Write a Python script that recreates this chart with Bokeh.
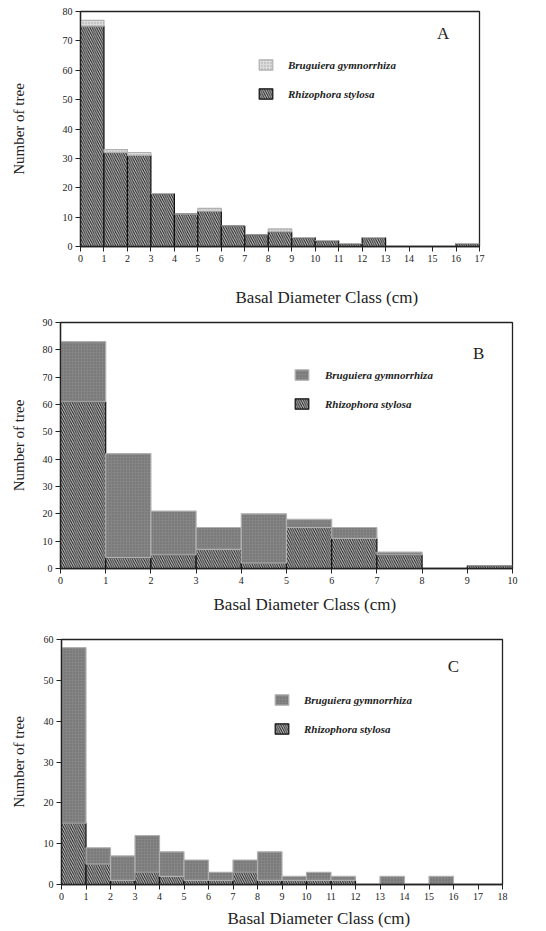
from bokeh.plotting import figure
from bokeh.models import (Range1d, Legend, LegendItem, Label, ColumnDataSource,
                          FixedTicker, Title, LinearAxis)
from bokeh.layouts import column, row
from bokeh.embed import file_html
from bokeh.resources import INLINE

# ---------------- data ----------------
species = ["Bruguiera gymnorrhiza", "Rhizophora stylosa"]

classes_a = list(range(17))   # class lower bound (cm)
rhizo_a = [75, 32, 31, 18, 11, 12, 7, 4, 5, 3, 2, 1, 3, 0, 0, 0, 1]
brug_a = [2, 1, 1, 0, 0, 1, 0, 0, 1, 0, 0, 0, 0, 0, 0, 0, 0]

classes_b = list(range(10))
rhizo_b = [61, 4, 5, 7, 2, 15, 11, 5, 0, 1]
brug_b = [22, 38, 16, 8, 18, 3, 4, 1, 0, 0]

classes_c = list(range(18))
rhizo_c = [15, 5, 1, 3, 2, 1, 1, 3, 1, 1, 1, 1, 0, 0, 0, 0, 0, 0]
brug_c = [43, 4, 6, 9, 6, 5, 2, 3, 7, 1, 2, 1, 0, 2, 0, 2, 0, 0]

panel_letters = ["A", "B", "C"]
y_max = [80, 90, 60]
x_max = [17, 10, 18]
x_title = "Basal Diameter Class (cm)"
y_title = "Number of tree"

SERIF = "Liberation Serif"


def panel(letter, classes, rhizo, brug, xmax, ymax, height, borders,
          ylab_standoff, xtitle_offset, gap, legend_loc, standoff, brug_fill, letter_pos):
    bl, bt, br, bb = borders
    p = figure(width=538, height=height, output_backend="svg", toolbar_location=None,
               x_range=Range1d(0, xmax), y_range=Range1d(0, ymax),
               min_border_left=bl, min_border_top=bt, min_border_right=br,
               min_border_bottom=bb, background_fill_color="white",
               border_fill_color="white")
    p.grid.visible = False
    p.outline_line_color = "#222222"
    p.outline_line_width = 1.3

    src = ColumnDataSource(dict(x=[c + 0.5 for c in classes], R=rhizo, B=brug))
    rends = p.vbar_stack(["R", "B"], x="x", width=1.0, source=src,
                         fill_color=["#c8c8c8", brug_fill],
                         line_color=["#111111", "#b0b0b0"],
                         line_width=[1.2, 1.2],
                         hatch_pattern=["\\", "."],
                         hatch_color=["#1a1a1a", "#333333"],
                         hatch_alpha=[1.0, 0.35],
                         hatch_scale=[4.5, 3],
                         hatch_weight=[1.0, 1.0])
    rR, rB = rends

    # axes
    p.xaxis.ticker = FixedTicker(ticks=list(range(0, xmax + 1)))
    p.yaxis.ticker = FixedTicker(ticks=list(range(0, ymax + 1, 10)))
    for ax in (p.xaxis[0], p.yaxis[0]):
        ax.axis_line_color = "#222222"
        ax.axis_line_width = 1.3
        ax.major_tick_line_color = "#222222"
        ax.major_tick_out = 5
        ax.major_tick_in = 0
        ax.minor_tick_line_color = None
        ax.major_label_text_font = SERIF
        ax.major_label_text_font_size = "10px"
        ax.major_label_text_color = "#222222"
        ax.major_label_standoff = 3
        ax.axis_label_text_font = SERIF
        ax.axis_label_text_font_style = "normal"
        ax.axis_label_text_color = "#222222"
    p.yaxis.axis_label = y_title
    p.yaxis.axis_label_text_font_size = "15px"
    p.yaxis.axis_label_standoff = ylab_standoff

    # blank spacer between tick labels and the x title (white on white)
    spacer = LinearAxis(ticker=FixedTicker(ticks=[0]), axis_line_color=None,
                        major_tick_line_color="white", minor_tick_line_color=None,
                        major_tick_out=gap, major_tick_in=0, minor_tick_out=0,
                        minor_tick_in=0, major_label_text_font_size="1px",
                        major_label_text_color="white",
                        major_label_standoff=0)
    p.add_layout(spacer, "below")

    # x-axis title (offset to the right as in the original figure)
    p.add_layout(Title(text=x_title, align="left", offset=xtitle_offset,
                       vertical_align="middle", standoff=0,
                       text_font=SERIF, text_font_size="17px",
                       text_font_style="normal", text_color="#222222"), "below")

    legend = Legend(items=[LegendItem(label=species[0], renderers=[rB]),
                           LegendItem(label=species[1], renderers=[rR])],
                    location=legend_loc, orientation="vertical",
                    glyph_width=17, glyph_height=13, label_height=13,
                    spacing=16, padding=0, margin=0, label_standoff=standoff,
                    label_text_font=SERIF, label_text_font_style="bold italic",
                    label_text_font_size="11px", label_text_color="#222222",
                    border_line_color=None, background_fill_alpha=0)
    p.add_layout(legend, "center")

    p.add_layout(Label(x=letter_pos[0], y=letter_pos[1], text=letter,
                       text_font=SERIF, text_font_size="17px",
                       text_color="#222222", text_align="center",
                       text_baseline="middle"))
    return p


pa = panel(panel_letters[0], classes_a, rhizo_a, brug_a, x_max[0], y_max[0],
           307, (80, 11, 59, 61), 33, 155, 18, (177, 146), 14, "#dcdcdc", (15.45, 72.5))
pb = panel(panel_letters[1], classes_b, rhizo_b, brug_b, x_max[1], y_max[1],
           307, (60, 15, 26, 46), 13, 153, 3, (233, 158), 15, "#858585", (9.25, 78.5))
pc = panel(panel_letters[2], classes_c, rhizo_c, brug_c, x_max[2], y_max[2],
           316, (61, 25, 36, 46), 14, 166, 1, (212, 149), 14, "#858585", (16.0, 53.5))

layout = column(row(pa), row(pb), row(pc), spacing=0)
open("out.html", "w").write(file_html(layout, INLINE))
